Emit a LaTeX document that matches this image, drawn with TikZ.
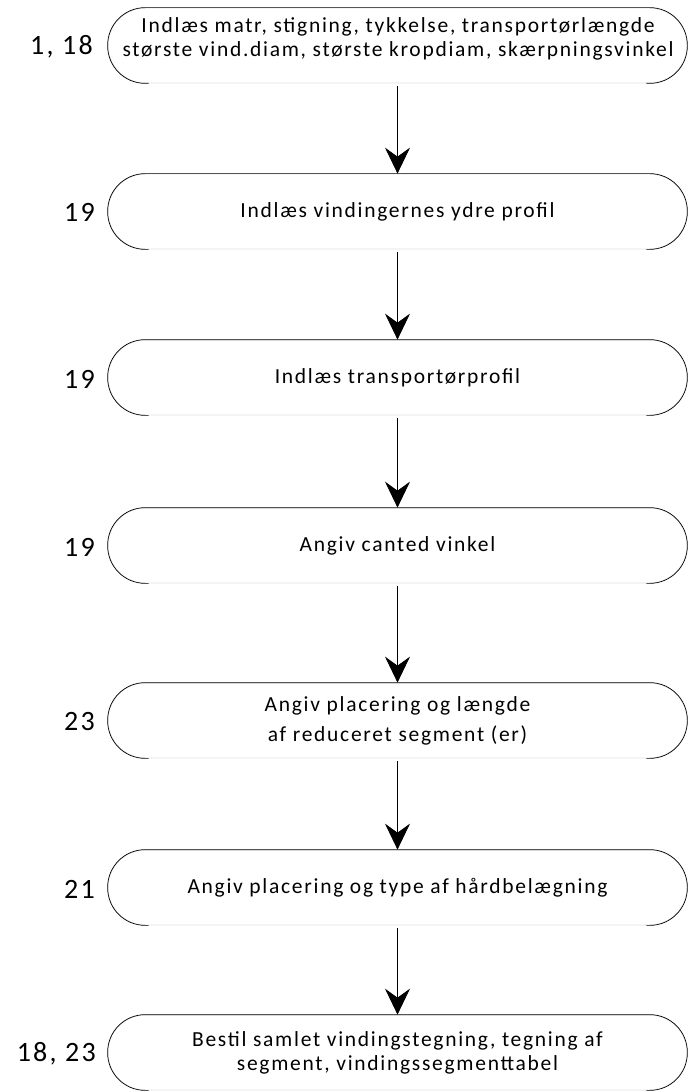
\documentclass[tikz,border=0pt]{standalone}
\usepackage{fontspec}
\setmainfont{Carlito}
\newfontfamily\boxfont[LetterSpace=8]{Carlito}
\newfontfamily\numfont[LetterSpace=8]{Carlito}
\usetikzlibrary{arrows.meta,calc}
\begin{document}
\begin{tikzpicture}[x=1pt,y=-1pt,
  box/.style={minimum width=579pt,minimum height=75pt,inner sep=0pt,align=center,
    font=\boxfont\fontsize{21.5}{24}\selectfont,draw=black!12,rounded corners=37.5pt,line width=0.7pt},
  boxtext/.style={inner sep=0pt,align=center,font=\boxfont\fontsize{21.5}{24}\selectfont},
  outline/.style={line width=0.7pt,rounded corners=37.5pt},
  lbl/.style={anchor=east,font=\numfont\fontsize{28}{30}\selectfont,inner sep=0pt},
  arr/.style={-{Stealth[length=26pt,width=25pt,inset=9pt]},line width=0.7pt}]
\useasboundingbox (0,0) rectangle (688,1091);
\node[box] (b1) at (397.5,45.5) {};
\node[boxtext] (t1) at (398,39) {Indlæs matr, stigning, tykkelse, transportørlængde\\største vind.diam, største kropdiam, skærpningsvinkel};
\node[box] (b2) at (397.5,211.5) {Indlæs vindingernes ydre profil};
\node[box] (b3) at (397.5,377.5) {Indlæs transportørprofil};
\node[box] (b4) at (397.5,545.5) {Angiv canted vinkel};
\node[box,font=\boxfont\fontsize{21.5}{30}\selectfont] (b5) at (397.5,720.5) {Angiv placering og længde\\af reduceret segment (er)};
\node[box] (b6) at (397.5,887.5) {Angiv placering og type af hårdbelægning};
\node[box] (b7) at (397.5,1052.5) {Bestil samlet vindingstegning, tegning af\\segment, vindingssegmenttabel};
\foreach \n in {b1,b2,b3,b4,b5,b6,b7}{
  \draw[outline] ($(\n.south west)+(41,0)$) -- (\n.south west) -- (\n.north west)
    -- (\n.north east) -- (\n.south east) -- ($(\n.south east)+(-41,0)$);
}
\node[lbl] (l1) at (93,47) {1, 18};
\node[lbl] (l2) at (95,212) {19};
\node[lbl] (l3) at (95,379) {19};
\node[lbl] (l4) at (95,547) {19};
\node[lbl] (l5) at (95,722) {23};
\node[lbl] (l6) at (95,889) {21};
\node[lbl] (l7) at (96,1054) {18, 23};
\draw[arr] ([yshift=-3pt]b1.south) -- (b2.north);
\draw[arr] ([yshift=-3pt]b2.south) -- (b3.north);
\draw[arr] ([yshift=-3pt]b3.south) -- (b4.north);
\draw[arr] ([yshift=-3pt]b4.south) -- (b5.north);
\draw[arr] ([yshift=-3pt]b5.south) -- (b6.north);
\draw[arr] ([yshift=-3pt]b6.south) -- (b7.north);
\end{tikzpicture}
\end{document}
